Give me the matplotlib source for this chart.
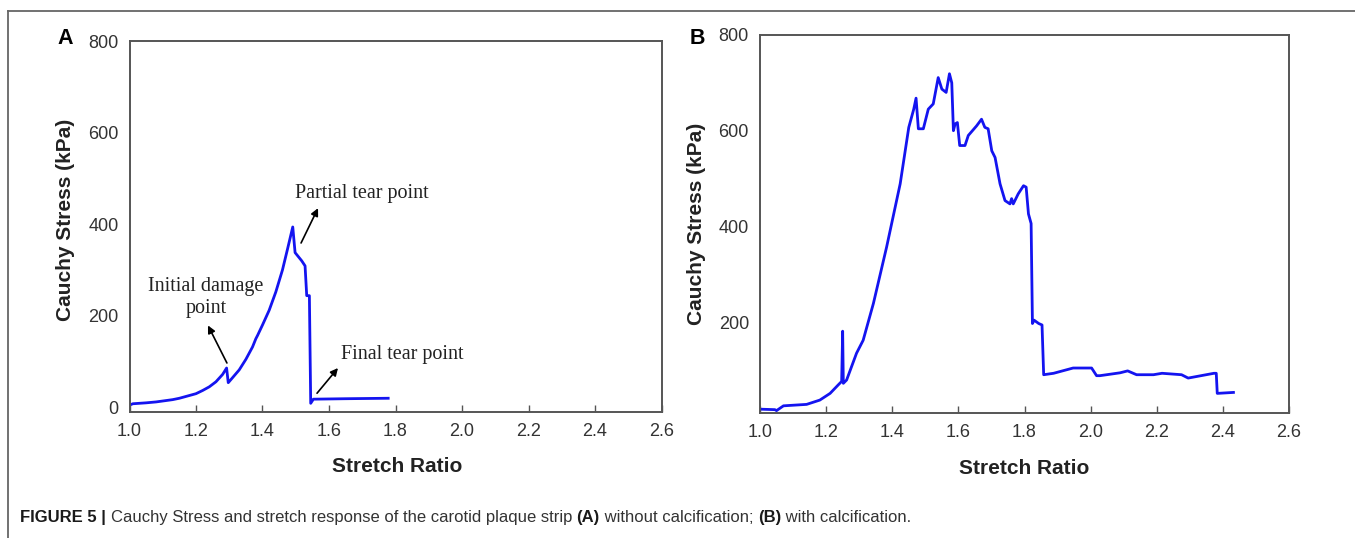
import matplotlib
matplotlib.use("Agg")
import matplotlib.pyplot as plt
from matplotlib import font_manager
from matplotlib.lines import Line2D

# ── DATA ──────────────────────────────────────────────────────────────────────
# Panel A: strip without calcification
a_stretch = [1.000, 1.010, 1.05, 1.08, 1.10, 1.13, 1.15, 1.18, 1.20, 1.22,
             1.24, 1.26, 1.28, 1.292, 1.297, 1.31, 1.33, 1.35, 1.37, 1.38,
             1.385, 1.40, 1.42, 1.44, 1.46, 1.475, 1.491, 1.498, 1.518, 1.528,
             1.533, 1.541, 1.545, 1.553, 1.65, 1.778]
a_stress = [5, 8, 10, 12, 14, 17, 20, 26, 30, 37,
            45, 56, 72, 86, 54, 65, 82, 105, 132, 150,
            157, 180, 212, 252, 300, 345, 394, 338, 320, 309,
            244, 244, 9, 18, 19, 20]

# Panel B: strip with calcification
b_stretch = [1.000, 1.045, 1.050, 1.071, 1.141, 1.181, 1.212, 1.237, 1.247, 1.250,
             1.252, 1.262, 1.292, 1.312, 1.343, 1.383, 1.424, 1.450, 1.465, 1.472,
             1.479, 1.494, 1.509, 1.524, 1.539, 1.550, 1.563, 1.573, 1.580, 1.585,
             1.590, 1.597, 1.604, 1.620, 1.630, 1.655, 1.670, 1.680, 1.690, 1.701,
             1.711, 1.726, 1.741, 1.756, 1.761, 1.766, 1.781, 1.797, 1.805, 1.812,
             1.820, 1.824, 1.829, 1.843, 1.853, 1.858, 1.888, 1.947, 1.988, 2.003,
             2.018, 2.028, 2.089, 2.112, 2.139, 2.190, 2.216, 2.275, 2.295, 2.334,
             2.373, 2.380, 2.383, 2.432]
b_stress = [18, 17, 15, 25, 28, 37, 51, 69, 76, 181,
            72, 79, 135, 162, 239, 357, 489, 607, 645, 668,
            604, 604, 645, 656, 711, 687, 680, 719, 700, 600,
            614, 617, 569, 569, 590, 610, 624, 607, 604, 558,
            544, 489, 454, 447, 458, 447, 468, 485, 482, 426,
            406, 197, 204, 197, 194, 90, 93, 104, 104, 104,
            88, 88, 94, 98, 90, 90, 93, 90, 83, 88,
            93, 93, 51, 53]

x_ticks = [1.0, 1.2, 1.4, 1.6, 1.8, 2.0, 2.2, 2.4, 2.6]
a_yticks = [0, 200, 400, 600, 800]
b_yticks = [200, 400, 600, 800]

# annotation labels of panel A: (text, text pos, arrow head, arrow tail)
a_notes = [
    ("Initial damage\npoint", (1.23, 240), (1.236, 179), (1.293, 97)),
    ("Partial tear point",    (1.70, 466), (1.567, 435), (1.516, 359)),
    ("Final tear point",      (1.82, 116), (1.627, 86),  (1.564, 31)),
]

caption_parts = [
    ("FIGURE 5 | ", "bold"),
    ("Cauchy Stress and stretch response of the carotid plaque strip ", "normal"),
    ("(A)", "bold"),
    (" without calcification; ", "normal"),
    ("(B)", "bold"),
    (" with calcification.", "normal"),
]

# ── FONTS ─────────────────────────────────────────────────────────────────────
installed = {f.name for f in font_manager.fontManager.ttflist}
SANS = "Liberation Sans" if "Liberation Sans" in installed else "DejaVu Sans"
SERIF = "Liberation Serif" if "Liberation Serif" in installed else "DejaVu Serif"
NARROW = "Liberation Sans Narrow" if "Liberation Sans Narrow" in installed else SANS
plt.rcParams["font.family"] = SANS

LINE_BLUE = "#1414f0"
SPINE = "#555555"

# ── FIGURE ────────────────────────────────────────────────────────────────────
W, H = 1355, 538
fig = plt.figure(figsize=(W / 100, H / 100), dpi=100)
fig.patch.set_facecolor("white")

def px_box(left, right, top, bottom):
    return [left / W, 1 - bottom / H, (right - left) / W, (bottom - top) / H]

ax_a = fig.add_axes(px_box(129.5, 661.5, 41, 412))
ax_b = fig.add_axes(px_box(760, 1289, 35, 413))

def style(ax, ylim, yticks):
    ax.set_xlim(1.0, 2.6)
    ax.set_ylim(*ylim)
    ax.set_xticks(x_ticks)
    ax.set_xticklabels([f"{t:.1f}" for t in x_ticks])
    ax.set_yticks(yticks)
    for s in ax.spines.values():
        s.set_color(SPINE)
        s.set_linewidth(1.4)
    ax.tick_params(axis="x", direction="in", length=5, width=1, color=SPINE,
                   labelsize=13, labelcolor="#333333", pad=8)
    ax.tick_params(axis="y", direction="in", length=0, labelsize=13,
                   labelcolor="#333333", pad=8)

ax_a.plot(a_stretch, a_stress, color=LINE_BLUE, lw=2.0)
style(ax_a, (-10, 800), a_yticks)

ax_b.plot(b_stretch, b_stress, color=LINE_BLUE, lw=2.0)
style(ax_b, (10, 800), b_yticks)

for ax, panel, px_panel in [(ax_a, "A", 65), (ax_b, "B", 697)]:
    ax.set_ylabel("Cauchy Stress (kPa)", fontsize=15, fontweight="bold", color="#222222")
    ax.set_xlabel("Stretch Ratio", fontsize=15, fontweight="bold", color="#222222")
    ax.xaxis.label.set_va("center")
    ax.yaxis.label.set_va("center")
    fig.text(px_panel / W, 1 - 38 / H, panel, fontsize=15.5, fontweight="bold",
             ha="center", va="center")

fig.canvas.draw()
# put the axis titles where they sit in the original
for ax, lab_x, lab_y, ylab_x, ylab_y in [(ax_a, 397, 466, 65, 220),
                                         (ax_b, 1024, 468, 697, 224)]:
    inv = ax.transAxes.inverted()
    xa, ya = inv.transform((lab_x, H - lab_y))
    ax.xaxis.set_label_coords(xa, ya)
    xb, yb = inv.transform((ylab_x, H - ylab_y))
    ax.yaxis.set_label_coords(xb, yb)

# annotations on panel A
for text, tpos, head, tail in a_notes:
    ax_a.text(tpos[0], tpos[1], text, family=SERIF, fontsize=14.5,
              ha="center", va="center", color="#222222", linespacing=1.15)
    ax_a.annotate("", xy=head, xytext=tail,
                  arrowprops=dict(arrowstyle="-|>", color="black", lw=1.2,
                                  mutation_scale=11, shrinkA=0, shrinkB=0))

# frame lines (top and left) around the figure
y_top = 1 - 11 / H
x_left = 8 / W
fig.add_artist(Line2D([x_left, 1.0], [y_top, y_top], transform=fig.transFigure,
                      color="#666666", lw=1.3))
fig.add_artist(Line2D([x_left, x_left], [0, y_top], transform=fig.transFigure,
                      color="#666666", lw=1.3))

# caption with mixed weights, laid out piece by piece on one baseline
renderer = fig.canvas.get_renderer()
x_cur = 20
for piece, weight in caption_parts:
    t = fig.text(x_cur / W, 1 - 522 / H, piece, family=NARROW, fontsize=12,
                 fontweight=weight, color="#1a1a1a" if weight == "bold" else "#333333",
                 ha="left", va="baseline")
    x_cur += t.get_window_extent(renderer=renderer).width

fig.savefig("out.png", dpi=100)
